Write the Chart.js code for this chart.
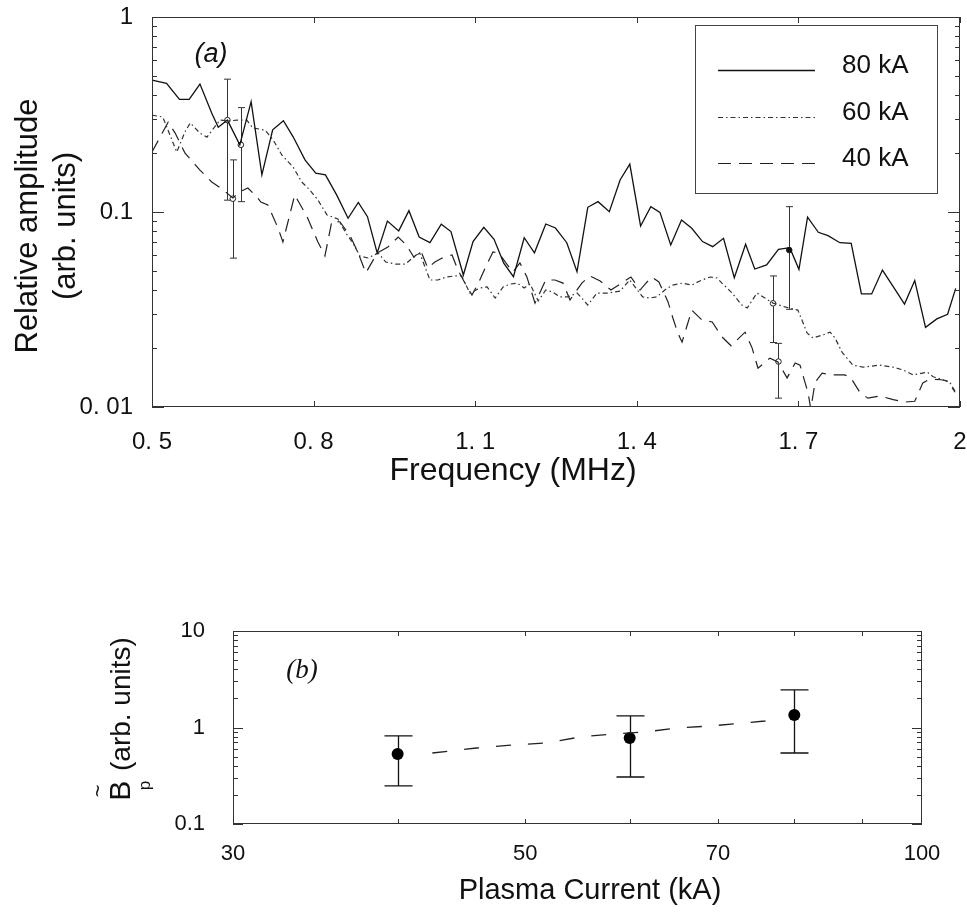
<!DOCTYPE html>
<html>
<head>
<meta charset="utf-8">
<script src="https://cdn.jsdelivr.net/npm/chart.js@4.4.1/dist/chart.umd.min.js"></script>
<style>
  body { margin: 0; background: #fff; }
  .panel { position: absolute; left: 0; width: 967px; }
  #panelA { top: 0; height: 500px; }
  #panelB { top: 590px; height: 322px; }
</style>
</head>
<body>
<div class="panel" id="panelA"><canvas id="chartA"></canvas></div>
<div class="panel" id="panelB"><canvas id="chartB"></canvas></div>
<script>
// panel (a): spectra
const freq80 = [0.500,0.527,0.551,0.569,0.589,0.611,0.623,0.640,0.663,0.684,0.704,0.724,0.744,0.762,0.784,0.804,0.822,0.843,0.864,0.883,0.900,0.918,0.937,0.958,0.977,0.996,1.016,1.037,1.055,1.078,1.096,1.116,1.135,1.153,1.171,1.191,1.210,1.231,1.249,1.270,1.289,1.309,1.328,1.349,1.369,1.387,1.407,1.426,1.443,1.463,1.483,1.502,1.522,1.541,1.561,1.581,1.602,1.619,1.641,1.663,1.684,1.701,1.717,1.737,1.755,1.777,1.798,1.817,1.836,1.856,1.876,1.897,1.916,1.936,1.957,1.977,1.992];
const amp80 = [0.475,0.457,0.378,0.378,0.453,0.321,0.272,0.296,0.221,0.368,0.155,0.264,0.294,0.243,0.185,0.158,0.155,0.122,0.0929,0.112,0.0946,0.0616,0.0899,0.080,0.1016,0.0744,0.0696,0.0866,0.0794,0.0475,0.0705,0.0835,0.0724,0.0546,0.0466,0.0738,0.0618,0.0868,0.0828,0.0696,0.0494,0.1057,0.113,0.1004,0.146,0.176,0.0848,0.1065,0.0996,0.0677,0.091,0.0825,0.0705,0.0664,0.0733,0.046,0.0683,0.051,0.0535,0.0644,0.0656,0.0508,0.094,0.0787,0.0756,0.0696,0.069,0.038,0.038,0.0504,0.0414,0.0337,0.0445,0.0256,0.0283,0.0299,0.0406];

const freq60 = [0.500,0.520,0.546,0.561,0.571,0.589,0.602,0.626,0.641,0.658,0.676,0.687,0.710,0.725,0.741,0.762,0.778,0.793,0.808,0.825,0.845,0.860,0.873,0.886,0.901,0.920,0.934,0.951,0.970,0.984,0.997,1.016,1.031,1.046,1.062,1.075,1.090,1.109,1.122,1.137,1.152,1.165,1.178,1.191,1.202,1.217,1.231,1.244,1.257,1.272,1.289,1.298,1.309,1.326,1.346,1.369,1.387,1.398,1.411,1.424,1.437,1.452,1.466,1.485,1.502,1.517,1.536,1.549,1.558,1.577,1.595,1.605,1.623,1.638,1.653,1.675,1.699,1.708,1.716,1.727,1.745,1.759,1.768,1.781,1.801,1.820,1.851,1.876,1.894,1.913,1.939,1.950,1.968,1.981,1.992];
const amp60 = [0.314,0.307,0.203,0.257,0.286,0.254,0.242,0.296,0.293,0.296,0.296,0.270,0.263,0.234,0.196,0.170,0.1425,0.1297,0.1152,0.0965,0.0921,0.0780,0.0693,0.0595,0.0581,0.0616,0.0554,0.0541,0.0541,0.0581,0.0616,0.0448,0.0448,0.0464,0.0470,0.0470,0.0384,0.0408,0.0413,0.0362,0.0413,0.0427,0.0432,0.0408,0.0427,0.0350,0.0398,0.0389,0.0367,0.0367,0.0384,0.0362,0.0333,0.0384,0.0384,0.0393,0.0448,0.0408,0.0367,0.0362,0.0367,0.0398,0.0422,0.0432,0.0422,0.0443,0.0464,0.0459,0.0432,0.0384,0.0333,0.0322,0.0384,0.0362,0.0341,0.0326,0.0314,0.0273,0.0240,0.0226,0.0234,0.0242,0.0226,0.0191,0.0164,0.0160,0.0164,0.0160,0.0155,0.0146,0.0151,0.0143,0.0138,0.0134,0.0119];

const freq40 = [0.500,0.530,0.543,0.561,0.589,0.611,0.630,0.650,0.663,0.678,0.695,0.702,0.715,0.734,0.743,0.765,0.788,0.808,0.821,0.834,0.849,0.868,0.882,0.897,0.918,0.938,0.957,0.972,0.986,0.999,1.012,1.025,1.042,1.057,1.068,1.083,1.094,1.107,1.120,1.133,1.144,1.157,1.170,1.183,1.196,1.211,1.231,1.248,1.263,1.276,1.298,1.313,1.332,1.352,1.369,1.389,1.406,1.417,1.428,1.441,1.458,1.467,1.476,1.484,1.502,1.521,1.540,1.558,1.575,1.601,1.614,1.625,1.647,1.662,1.679,1.694,1.703,1.718,1.723,1.731,1.744,1.762,1.785,1.796,1.814,1.829,1.851,1.876,1.898,1.916,1.931,1.944,1.965,1.976,1.991];
const amp40 = [0.203,0.289,0.254,0.201,0.164,0.1425,0.1312,0.118,0.127,0.1328,0.1194,0.1125,0.1087,0.0828,0.0702,0.1223,0.0943,0.0702,0.0595,0.0899,0.0889,0.0753,0.0624,0.0487,0.0616,0.0661,0.0744,0.0677,0.0588,0.0631,0.0516,0.0554,0.0588,0.0602,0.0504,0.0422,0.0375,0.0438,0.0528,0.0624,0.0616,0.0548,0.0492,0.0548,0.0464,0.0341,0.0448,0.0448,0.0432,0.0354,0.0432,0.0470,0.0443,0.0398,0.0427,0.0464,0.0398,0.0432,0.0464,0.0438,0.0346,0.0286,0.0240,0.0215,0.0314,0.0279,0.0273,0.0229,0.0206,0.0242,0.0201,0.0158,0.0178,0.0170,0.0141,0.0168,0.0164,0.0118,0.00977,0.0134,0.0149,0.0146,0.0146,0.0143,0.0119,0.0111,0.0114,0.0109,0.0106,0.0107,0.0133,0.0139,0.0138,0.0136,0.0119];

// error bars in panel (a)
const errFreq = [0.640, 0.665, 0.650, 1.683, 1.653, 1.663];
const errMid = [0.296, 0.221, 0.117, 0.0638, 0.034, 0.0171];
const errHigh = [0.48, 0.343, 0.185, 0.1065, 0.047, 0.0212];
const errLow = [0.115, 0.113, 0.058, 0.0317, 0.0214, 0.0111];
const errFilled = [false, false, false, true, false, false];

const xTicksA = [0.5, 0.8, 1.1, 1.4, 1.7, 2];
const xLabelsA = ['0. 5', '0. 8', '1. 1', '1. 4', '1. 7', '2'];
const yTicksA = [0.01, 0.1, 1];
const yLabelsA = ['0. 01', '0.1', '1'];

// panel (b): amplitude vs plasma current
const currents = [40, 60, 80];
const bpMid = [0.531, 0.778, 1.35];
const bpHigh = [0.817, 1.32, 2.45];
const bpLow = [0.248, 0.307, 0.544];
const fitCurrent = [42.5, 45.9, 48.9, 51.9, 55.0, 58.2, 61.6, 65.2, 69.0, 73.4, 76.0, 77.8];
const fitBp = [0.544, 0.613, 0.659, 0.691, 0.797, 0.856, 0.898, 0.988, 1.036, 1.113, 1.168, 1.285];

const xTicksB = [30, 50, 70, 100];
const xLabelsB = ['30', '50', '70', '100'];
const xMarksB = [40, 50, 60, 70, 80, 90];
const yTicksB = [0.1, 1, 10];
const yLabelsB = ['0.1', '1', '10'];

const SANS = '"Liberation Sans", Arial, Helvetica, sans-serif';
Chart.defaults.font.family = SANS;
Chart.defaults.color = '#111';

function pts(xs, ys) {
  return xs.map((x, i) => ({x: x, y: ys[i]}));
}

function logMarks(min, max) {
  const out = [];
  for (let e = Math.round(Math.log10(min)); e < Math.round(Math.log10(max)); e++) {
    for (let m = 1; m < 10; m++) out.push({v: m * Math.pow(10, e), major: m === 1});
  }
  out.push({v: max, major: true});
  return out;
}

// box round the plot, ticks pointing inwards
const frameTicks = {
  id: 'frameTicks',
  afterDatasetsDraw(chart, args, opts) {
    const {ctx, chartArea: a, scales: {x, y}} = chart;
    ctx.save();
    ctx.strokeStyle = '#333';
    ctx.lineWidth = 1;
    ctx.strokeRect(a.left + 0.5, a.top + 0.5, a.right - a.left - 1, a.bottom - a.top - 1);
    ctx.beginPath();
    opts.xMarks.forEach(v => {
      const px = Math.round(x.getPixelForValue(v)) + 0.5;
      ctx.moveTo(px, a.top); ctx.lineTo(px, a.top + opts.xLen);
      ctx.moveTo(px, a.bottom); ctx.lineTo(px, a.bottom - opts.xLen);
    });
    logMarks(y.min, y.max).forEach(t => {
      const py = Math.round(y.getPixelForValue(t.v)) + 0.5;
      const len = t.major ? opts.yMajor : opts.yMinor;
      ctx.moveTo(a.left, py); ctx.lineTo(a.left + len, py);
      ctx.moveTo(a.right, py); ctx.lineTo(a.right - len, py);
    });
    ctx.stroke();
    ctx.restore();
  }
};

const errorBars = {
  id: 'errorBars',
  beforeDatasetsDraw(chart, args, opts) {
    const {ctx, scales: {x, y}} = chart;
    ctx.save();
    ctx.strokeStyle = opts.color;
    ctx.lineWidth = opts.width;
    ctx.beginPath();
    opts.xs.forEach((v, i) => {
      const px = Math.round(x.getPixelForValue(v)) + 0.5;
      const top = y.getPixelForValue(opts.high[i]);
      const bot = y.getPixelForValue(opts.low[i]);
      ctx.moveTo(px, top); ctx.lineTo(px, bot);
      ctx.moveTo(px - opts.cap, top); ctx.lineTo(px + opts.cap, top);
      ctx.moveTo(px - opts.cap, bot); ctx.lineTo(px + opts.cap, bot);
    });
    ctx.stroke();
    ctx.restore();
  }
};

// free text: titles and panel letters, placed in canvas pixels
const notes = {
  id: 'notes',
  afterDraw(chart, args, opts) {
    const ctx = chart.ctx;
    opts.items.forEach(it => {
      ctx.save();
      ctx.translate(it.x, it.y);
      if (it.rotate) ctx.rotate(it.rotate);
      ctx.font = it.font;
      ctx.fillStyle = '#111';
      ctx.textAlign = 'center';
      ctx.textBaseline = 'middle';
      const lines = [].concat(it.text);
      lines.forEach((t, i) => ctx.fillText(t, 0, (i - (lines.length - 1) / 2) * (it.gap || 0)));
      ctx.restore();
    });
  }
};

const boxLegend = {
  id: 'boxLegend',
  afterDraw(chart, args, opts) {
    const {ctx, chartArea: a} = chart;
    const left = a.right - opts.right - opts.width;
    const top = a.top + opts.top;
    ctx.save();
    ctx.fillStyle = '#fff';
    ctx.fillRect(left, top, opts.width, opts.height);
    ctx.strokeStyle = '#444';
    ctx.lineWidth = 1;
    ctx.strokeRect(left + 0.5, top + 0.5, opts.width, opts.height);
    chart.data.datasets.filter(d => d.inLegend).forEach((ds, i) => {
      const yy = Math.round(top + opts.firstRow + i * opts.rowGap) + 0.5;
      ctx.beginPath();
      ctx.setLineDash(ds.borderDash || []);
      ctx.strokeStyle = ds.borderColor;
      ctx.lineWidth = ds.borderWidth;
      ctx.moveTo(left + 23, yy); ctx.lineTo(left + 120, yy);
      ctx.stroke();
      ctx.setLineDash([]);
      ctx.fillStyle = '#111';
      ctx.font = '26px ' + SANS;
      ctx.textBaseline = 'alphabetic';
      ctx.fillText(ds.label, left + 147, yy + 2);
    });
    ctx.restore();
  }
};

// B~p (arb. units), rotated
const bpTitle = {
  id: 'bpTitle',
  afterDraw(chart, args, opts) {
    const ctx = chart.ctx;
    ctx.save();
    ctx.translate(opts.x, opts.y);
    ctx.rotate(-Math.PI / 2);
    ctx.fillStyle = '#111';
    ctx.textBaseline = 'middle';
    ctx.textAlign = 'left';
    ctx.font = '30px ' + SANS;
    const wB = ctx.measureText('B').width;
    ctx.font = '28px ' + SANS;
    const wRest = ctx.measureText(' (arb. units)').width;
    ctx.font = '17px ' + SANS;
    const wP = ctx.measureText('p').width;
    const x0 = -(wB + wRest) / 2;
    ctx.font = '30px ' + SANS;
    ctx.fillText('B', x0, 0);
    ctx.font = '17px ' + SANS;
    ctx.fillText('p', x0 + wB - wP, 23);
    ctx.font = '22px ' + SANS;
    ctx.textAlign = 'center';
    ctx.fillText('~', x0 + wB / 2, -23);
    ctx.textAlign = 'left';
    ctx.font = '28px ' + SANS;
    ctx.fillText(' (arb. units)', x0 + wB + 2, 0);
    ctx.restore();
  }
};

new Chart(document.getElementById('chartA'), {
  type: 'line',
  data: {
    datasets: [
      { label: '80 kA', inLegend: true, data: pts(freq80, amp80), borderColor: '#111', borderWidth: 1.3, pointRadius: 0, tension: 0 },
      { label: '60 kA', inLegend: true, data: pts(freq60, amp60), borderColor: '#333', borderWidth: 1.2, borderDash: [5, 3, 1.5, 3], pointRadius: 0, tension: 0 },
      { label: '40 kA', inLegend: true, data: pts(freq40, amp40), borderColor: '#222', borderWidth: 1.2, borderDash: [13, 8], pointRadius: 0, tension: 0 },
      { type: 'scatter', label: 'error', data: pts(errFreq, errMid), pointRadius: 2.8, borderWidth: 1,
        borderColor: '#222', backgroundColor: errFilled.map(f => f ? '#111' : '#fff') }
    ]
  },
  options: {
    responsive: true,
    maintainAspectRatio: false,
    animation: false,
    devicePixelRatio: 1,
    layout: { padding: { top: 17, right: 7, left: 0, bottom: 0 } },
    scales: {
      x: {
        type: 'linear', min: 0.5, max: 2,
        grid: { display: false, drawTicks: true, tickLength: 21 },
        border: { display: false },
        afterBuildTicks: s => { s.ticks = xTicksA.map(v => ({value: v})); },
        afterFit: s => { s.height = 93; },
        ticks: { autoSkip: false, maxRotation: 0, padding: 0, font: { size: 24 }, callback: (v, i) => xLabelsA[i] }
      },
      y: {
        type: 'logarithmic', min: 0.01, max: 1,
        grid: { display: false, drawTicks: true, tickLength: 17 },
        border: { display: false },
        afterBuildTicks: s => { s.ticks = yTicksA.map(v => ({value: v})); },
        afterFit: s => { s.width = 152; },
        ticks: { autoSkip: false, padding: 2, font: { size: 24 }, callback: (v, i) => yLabelsA[i] }
      }
    },
    plugins: {
      legend: { display: false },
      tooltip: { enabled: false },
      frameTicks: { xMarks: xTicksA, xLen: 6, yMajor: 12, yMinor: 5 },
      errorBars: { xs: errFreq, high: errHigh, low: errLow, cap: 3.5, color: '#333', width: 1 },
      boxLegend: { right: 23, top: 8, width: 242, height: 168, firstRow: 45, rowGap: 46.5 },
      notes: { items: [
        { text: '(a)', font: 'italic 27px ' + SANS, x: 211, y: 54 },
        { text: 'Frequency (MHz)', font: '32px ' + SANS, x: 513, y: 471 },
        { text: ['Relative amplitude', '(arb. units)'], font: '31px ' + SANS, x: 47, y: 226, gap: 38, rotate: -Math.PI / 2 }
      ] }
    }
  },
  plugins: [frameTicks, errorBars, boxLegend, notes]
});

new Chart(document.getElementById('chartB'), {
  type: 'line',
  data: {
    datasets: [
      { label: 'fit', data: pts(fitCurrent, fitBp), borderColor: '#222', borderWidth: 1.3, borderDash: [15, 17], pointRadius: 0, tension: 0 },
      { type: 'scatter', label: 'Bp', data: pts(currents, bpMid), pointRadius: 6, borderWidth: 0, backgroundColor: '#000' }
    ]
  },
  options: {
    responsive: true,
    maintainAspectRatio: false,
    animation: false,
    devicePixelRatio: 1,
    layout: { padding: { top: 41, right: 45, left: 0, bottom: 0 } },
    scales: {
      x: {
        type: 'logarithmic', min: 30, max: 100,
        grid: { display: false, drawTicks: true, tickLength: 17 },
        border: { display: false },
        afterBuildTicks: s => { s.ticks = xTicksB.map(v => ({value: v})); },
        afterFit: s => { s.height = 88; },
        ticks: { autoSkip: false, maxRotation: 0, padding: 0, font: { size: 22 }, callback: (v, i) => xLabelsB[i] }
      },
      y: {
        type: 'logarithmic', min: 0.1, max: 10,
        grid: { display: false, drawTicks: true, tickLength: 26 },
        border: { display: false },
        afterBuildTicks: s => { s.ticks = yTicksB.map(v => ({value: v})); },
        afterFit: s => { s.width = 233; },
        ticks: { autoSkip: false, padding: 2, font: { size: 22 }, callback: (v, i) => yLabelsB[i] }
      }
    },
    plugins: {
      legend: { display: false },
      tooltip: { enabled: false },
      frameTicks: { xMarks: xMarksB, xLen: 5, yMajor: 10, yMinor: 5 },
      errorBars: { xs: currents, high: bpHigh, low: bpLow, cap: 14, color: '#111', width: 1.3 },
      notes: { items: [
        { text: '(b)', font: 'italic 27px "Liberation Serif", "Times New Roman", serif', x: 302, y: 81 },
        { text: 'Plasma Current (kA)', font: '29px ' + SANS, x: 590, y: 301 }
      ] },
      bpTitle: { x: 122, y: 130 }
    }
  },
  plugins: [frameTicks, errorBars, notes, bpTitle]
});
</script>
</body>
</html>
